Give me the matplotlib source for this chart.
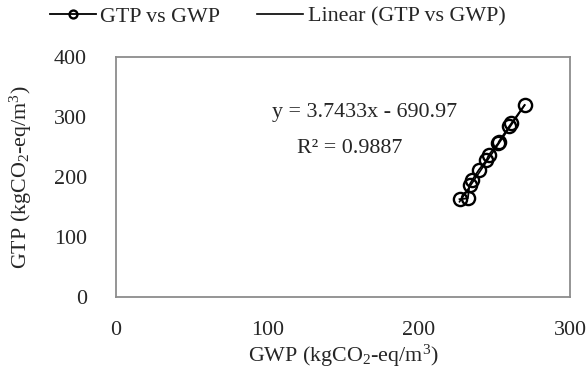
import numpy as np
import matplotlib
matplotlib.use("Agg")
import matplotlib.pyplot as plt

# GWP vs GTP values (kgCO2-eq/m3)
gwp = [227.0, 232.5, 233.6, 235.4, 239.8, 244.8, 246.4, 252.5, 253.0, 260.0, 261.3, 270.0]
gtp = [163.0, 164.5, 187.0, 195.0, 212.0, 228.0, 237.0, 256.0, 259.0, 285.0, 289.5, 320.0]

# trendline reported on the chart
slope = 3.7433
intercept = -690.97
r_squared = 0.9887

x_ticks = [0, 100, 200, 300]
y_ticks = [0, 100, 200, 300, 400]

plt.rcParams["font.family"] = ["Liberation Serif", "DejaVu Serif"]
plt.rcParams["mathtext.default"] = "regular"
plt.rcParams["font.size"] = 15.8

fig = plt.figure(figsize=(5.88, 3.83), dpi=100)
ax = fig.add_axes([116 / 588, 1 - 297 / 383, 454 / 588, 240 / 383])

ax.plot(gwp, gtp, color="black", lw=1.3, marker="o", ms=9.5,
        mfc="none", mec="black", mew=1.7, label="GTP vs GWP")

xs = np.array([min(gwp), max(gwp)])
ax.plot(xs, slope * xs + intercept, color="black", lw=1.2,
        label="Linear (GTP vs GWP)")

ax.set_xlim(0, 300)
ax.set_ylim(0, 400)
ax.set_xticks(x_ticks)
ax.set_yticks(y_ticks)
ax.tick_params(length=0, colors="#262626")
ax.tick_params(axis="x", pad=17)
ax.tick_params(axis="y", pad=21)
for s in ax.spines.values():
    s.set_color("#8c8c8c")
    s.set_linewidth(1.3)

ax.set_xlabel("GWP (kgCO$_2$-eq/m$^3$)", color="#262626", labelpad=2)
ax.set_ylabel("GTP (kgCO$_2$-eq/m$^3$)", color="#262626", labelpad=14)

ax.text(0.548, 0.767, f"y = {slope}x - {abs(intercept)}", transform=ax.transAxes,
        ha="center", va="center", color="#262626")
ax.text(0.515, 0.62, f"R\u00b2 = {r_squared}", transform=ax.transAxes,
        ha="center", va="center", color="#262626")

fig.legend(loc="upper center", bbox_to_anchor=(0.472, 1.035), ncol=2,
           frameon=False, handlelength=2.1, handletextpad=0.2,
           columnspacing=1.7, markerscale=0.6, labelcolor="#262626")

fig.savefig("out.png", dpi=100)
